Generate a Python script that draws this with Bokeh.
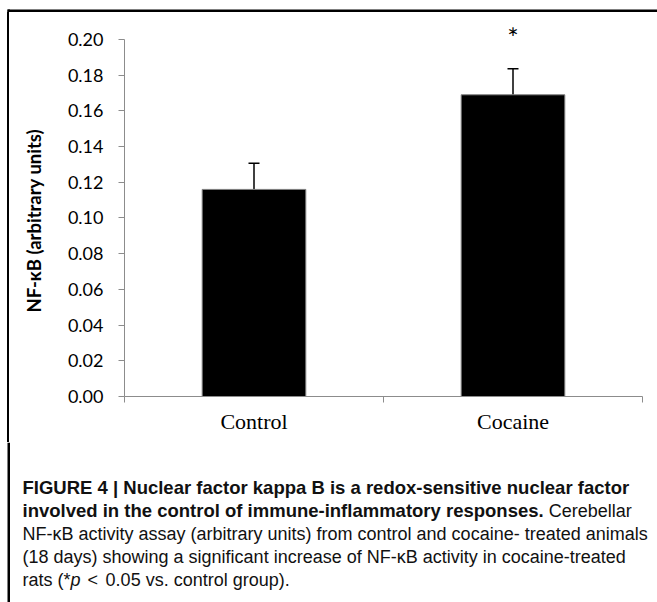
from bokeh.plotting import figure
from bokeh.layouts import column, row
from bokeh.models import (ColumnDataSource, FixedTicker, Range1d, Whisker, TeeHead,
                          NumeralTickFormatter, Title)
from bokeh.core.properties import value
from bokeh.embed import file_html
from bokeh.resources import INLINE

# ---------------- data ----------------
categories = ["Control", "Cocaine"]
means = [0.116, 0.169]
errors = [0.0147, 0.0146]
significance = ["", "*"]
y_ticks = [0.00, 0.02, 0.04, 0.06, 0.08, 0.10, 0.12, 0.14, 0.16, 0.18, 0.20]
y_label = "NF-κB (arbitrary units)"

# caption pieces: (text, style, advance in em used to place the next piece)
caption_lines = [
    [("FIGURE 4 | Nuclear factor kappa B is a redox-sensitive nuclear factor", "bold", 0)],
    [("involved in the control of immune-inflammatory responses.", "bold", 28.45),
     ("Cerebellar", "normal", 0)],
    [("NF-κB activity assay (arbitrary units) from control and cocaine- treated animals", "normal", 0)],
    [("(18 days) showing a significant increase of NF-κB activity in cocaine-treated", "normal", 0)],
    [("rats (*", "normal", 2.667), ("p", "italic", 0.95), ("<", "normal", 1.0),
     ("0.05 vs. control group).", "normal", 0)],
]

# ---------------- layout constants ----------------
W, H = 657, 602
TOP_H = 12
CHART_H = 430
CAP_H = H - TOP_H - CHART_H
RULE_X0, RULE_X1 = 7, 9.5
GRAY = "#8c8c8c"
RULE_CSS = "linear-gradient(to right, #fff 7px, #000 7px, #000 9.5px, #fff 9.5px)"


def strip(w, h):
    f = figure(width=w, height=h, output_backend="svg", toolbar_location=None, tools="",
               x_range=Range1d(0, w), y_range=Range1d(h, 0),
               min_border=0, x_axis_location=None, y_axis_location=None)
    f.outline_line_color = None
    f.grid.visible = False
    f.background_fill_color = "white"
    f.border_fill_color = "white"
    return f


# top strip: top rule + start of left rule
top = strip(W, TOP_H)
top.quad(left=RULE_X0, right=W, top=9, bottom=11.5, fill_color="black", line_color=None)
top.quad(left=RULE_X0, right=RULE_X1, top=9, bottom=TOP_H, fill_color="black", line_color=None)

# ---------------- chart ----------------
xs = [i + 0.5 for i in range(len(categories))]
uppers = [m + e for m, e in zip(means, errors)]
src = ColumnDataSource(dict(x=xs, top=means, upper=uppers, sig=significance))

p = figure(width=W, height=CHART_H, output_backend="svg", toolbar_location=None,
           x_range=Range1d(0, len(categories)), y_range=Range1d(0, 0.2151),
           min_border_left=122, min_border_right=15, min_border_top=0, min_border_bottom=46,
           tools="", styles={"background": RULE_CSS})
p.outline_line_color = None
p.grid.visible = False
p.background_fill_color = "white"
p.border_fill_color = None   # transparent, so the left rule (CSS background) shows

p.vbar(x="x", top="top", width=0.4, bottom=0, source=src,
       fill_color="black", line_color="#7f7f7f", line_width=1)

p.add_layout(Whisker(source=src, base="x", lower="top", upper="upper", dimension="height",
                     line_color="black", line_width=1.5, lower_head=None,
                     upper_head=TeeHead(size=11, line_color="black", line_width=1.5)))

p.text(x="x", y="upper", text="sig", source=src, text_align="center", text_baseline="middle",
       y_offset=-31, text_font=value("Lato"), text_font_size="27px", text_color="black")

# y axis
ya = p.yaxis[0]
ya.ticker = FixedTicker(ticks=y_ticks)
ya.formatter = NumeralTickFormatter(format="0.00")
ya.bounds = (0, 0.2)
ya.axis_line_color = GRAY
ya.major_tick_line_color = GRAY
ya.major_tick_out = 6
ya.major_tick_in = 0
ya.minor_tick_line_color = None
ya.major_label_text_font = "Lato"
ya.major_label_text_font_size = "18px"
ya.major_label_text_color = "black"
ya.major_label_standoff = 15

# y axis title, placed as a side title so it can be centred on the 0-0.20 span
p.add_layout(Title(text=y_label, align="left", offset=84, standoff=40,
                   text_font="Lato", text_font_style="bold", text_font_size="18.5px",
                   text_color="black"), "left")

# x axis
xa = p.xaxis[0]
xa.ticker = FixedTicker(ticks=xs, minor_ticks=list(range(len(categories) + 1)))
xa.major_label_overrides = {x: c for x, c in zip(xs, categories)}
xa.axis_line_color = GRAY
xa.major_tick_line_color = None
xa.minor_tick_line_color = GRAY
xa.minor_tick_out = 6
xa.minor_tick_in = 0
xa.major_label_text_font = "Liberation Serif"
xa.major_label_text_font_size = "22px"
xa.major_label_text_color = "black"
xa.major_label_standoff = 6

# ---------------- caption ----------------
cap = strip(W, CAP_H)
cap.quad(left=RULE_X0, right=RULE_X1, top=0, bottom=CAP_H, fill_color="black", line_color=None)

CAP_FONT = "Liberation Sans"
size = {"bold": 18.5, "normal": 18, "italic": 18}
line_y0 = 45
line_gap = 23
x0 = 22
for i, pieces in enumerate(caption_lines):
    x = x0
    for txt, style, adv in pieces:
        cap.text(x=[x], y=[line_y0 + i * line_gap], text=[txt], text_font=value(CAP_FONT),
                 text_font_size=f"{size[style]}px", text_font_style=style,
                 text_baseline="middle", text_align="left", text_color="#111111")
        x += adv * size[style]

# wrap the chart in a row so the column does not align its frame with the strips
layout = column(top, row(p), cap)
open("out.html", "w").write(file_html(layout, INLINE))
